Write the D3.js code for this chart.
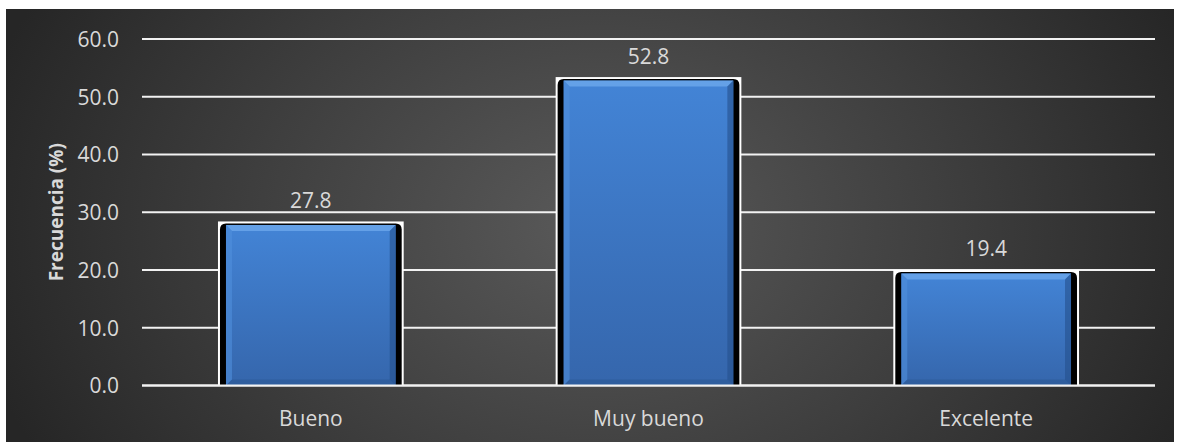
<!DOCTYPE html>
<html><head><meta charset="utf-8">
<script src="https://cdn.jsdelivr.net/npm/d3@7"></script>
<style>html,body{margin:0;padding:0;background:#fff;}svg{display:block;}</style>
</head><body>
<svg id="chart" width="1177" height="442"></svg>
<script>
const categories = ["Bueno", "Muy bueno", "Excelente"];
const values = [27.8, 52.8, 19.4];
const yTicks = [0, 10, 20, 30, 40, 50, 60];
const yTitle = "Frecuencia (%)";

const W = 1177, H = 442;
const svg = d3.select("#chart");
const defs = svg.append("defs");

const bg = defs.append("radialGradient").attr("id","bg")
  .attr("gradientUnits","userSpaceOnUse").attr("cx",600).attr("cy",225).attr("r",640)
  .attr("gradientTransform","translate(600,225) scale(1,0.75) translate(-600,-225)");
bg.append("stop").attr("offset","0").attr("stop-color","#5a5a5a");
bg.append("stop").attr("offset","0.55").attr("stop-color","#3e3e3e");
bg.append("stop").attr("offset","1").attr("stop-color","#262626");

const blue = defs.append("linearGradient").attr("id","blue").attr("x1",0).attr("y1",0).attr("x2",0).attr("y2",1);
blue.append("stop").attr("offset","0").attr("stop-color","#4384d6");
blue.append("stop").attr("offset","1").attr("stop-color","#3566ac");

svg.append("rect").attr("x",6).attr("y",9).attr("width",1168).attr("height",433).attr("fill","url(#bg)");

const margin = {left:142, right:1155, top:39, bottom:385.5};
const x = d3.scaleBand().domain(categories).range([margin.left, margin.right]).paddingInner(0.45).paddingOuter(0.225);
const y = d3.scaleLinear().domain([0,60]).range([margin.bottom, margin.top]);

const font = "'Open Sans', 'Noto Sans', sans-serif";
const txt = "#d9d9d9";
const fs = 21;

// gridlines
svg.append("g").selectAll("line").data(yTicks).join("line")
  .attr("x1", margin.left).attr("x2", margin.right)
  .attr("y1", d=>y(d)).attr("y2", d=>y(d))
  .attr("stroke","#f2f2f2").attr("stroke-width",2);

// y axis labels
const yAxis = d3.axisLeft(y).tickValues(yTicks).tickFormat(d3.format(".1f")).tickSize(0).tickPadding(0);
const ga = svg.append("g").attr("transform",`translate(119,0)`).call(yAxis);
ga.select(".domain").remove();
ga.selectAll("text").attr("fill",txt).attr("font-family",font).attr("font-size",fs).attr("dy","0.35em");

// x axis labels
const xAxis = d3.axisBottom(x).tickSize(0).tickPadding(0);
const gx = svg.append("g").attr("transform",`translate(0,${margin.bottom})`).call(xAxis);
gx.select(".domain").remove();
gx.selectAll("text").attr("fill",txt).attr("font-family",font).attr("font-size",fs).attr("dy",0).attr("y",40.5);

// bars
const bars = svg.append("g").selectAll("g").data(values).join("g");
const bw = x.bandwidth();
bars.each(function(v,i){
  const g = d3.select(this);
  const x0 = x(categories[i]);
  const yt = y(v), yb = y(0);
  // white frame
  g.append("rect").attr("x",x0).attr("y",yt-3.5).attr("width",bw).attr("height",yb-yt+3.5).attr("fill","#ffffff");
  // black shadow
  g.append("path").attr("fill","#000")
    .attr("d",()=>{
      const l=x0+2, r=x0+bw-2, t=yt-1.5, rr=6;
      return `M${l},${yb} L${l},${t+rr} Q${l},${t} ${l+rr},${t} L${r-rr},${t} Q${r},${t} ${r},${t+rr} L${r},${yb} Z`;
    });
  // blue body
  const l = x0+8, r = x0+bw-8, t = yt, b = yb, e = 6;
  g.append("rect").attr("x",l).attr("y",t).attr("width",r-l).attr("height",b-t).attr("fill","url(#blue)");
  // bevels
  g.append("path").attr("d",`M${l},${t} L${r},${t} L${r-e},${t+e} L${l+e},${t+e} Z`).attr("fill","#6aa6ea").attr("opacity",0.85);
  g.append("path").attr("d",`M${l},${t} L${l+e},${t+e} L${l+e},${b-e} L${l},${b} Z`).attr("fill","#5090dc").attr("opacity",0.6);
  g.append("path").attr("d",`M${r},${t} L${r-e},${t+e} L${r-e},${b-e} L${r},${b} Z`).attr("fill","#24508c").attr("opacity",0.6);
  g.append("path").attr("d",`M${l},${b} L${l+e},${b-e} L${r-e},${b-e} L${r},${b} Z`).attr("fill","#2a5590").attr("opacity",0.5);
  // value label
  g.append("text").attr("x",x0+bw/2).attr("y",yt-17).attr("text-anchor","middle")
    .attr("fill",txt).attr("font-family",font).attr("font-size",fs).text(d3.format(".1f")(v));
});

// baseline on top of bars
svg.append("line").attr("x1",margin.left).attr("x2",margin.right).attr("y1",y(0)).attr("y2",y(0))
  .attr("stroke","#f2f2f2").attr("stroke-width",2);

// y title
svg.append("text").attr("transform",`translate(63,${(margin.top+margin.bottom)/2}) rotate(-90)`)
  .attr("text-anchor","middle").attr("fill",txt).attr("font-family",font).attr("font-weight","bold")
  .attr("font-size",19).text(yTitle);
</script>
</body></html>
